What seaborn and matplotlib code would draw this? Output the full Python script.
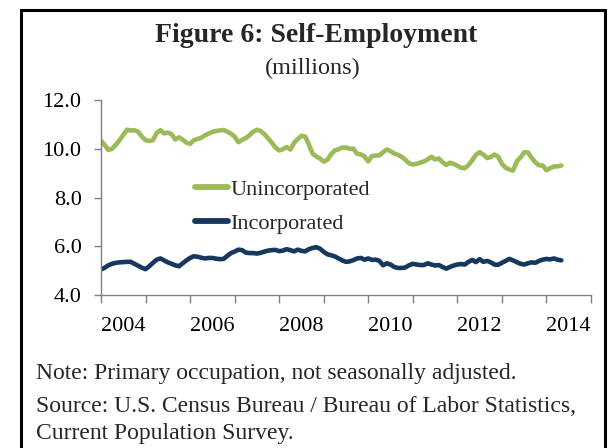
import numpy as np
import pandas as pd
import matplotlib
matplotlib.use("Agg")
import matplotlib.pyplot as plt
import seaborn as sns
from matplotlib.patches import Rectangle

sns.set_theme(style="white")
plt.rcParams['font.family'] = ['Liberation Serif', 'DejaVu Serif']

# Monthly data, Jan 2004 - May 2014 (millions)
start_year = 2004
unincorporated = [
    10.33, 10.15, 9.95, 10.00, 10.17, 10.35, 10.57, 10.78, 10.75, 10.76, 10.70, 10.50,
    10.35, 10.32, 10.35, 10.65, 10.76, 10.63, 10.66, 10.60, 10.38, 10.47, 10.37, 10.25,
    10.20, 10.35, 10.40, 10.45, 10.55, 10.62, 10.69, 10.73, 10.75, 10.77, 10.70, 10.62,
    10.50, 10.27, 10.36, 10.44, 10.55, 10.70, 10.78, 10.73, 10.60, 10.43, 10.25, 10.05,
    9.93, 9.98, 10.07, 9.97, 10.24, 10.40, 10.53, 10.50, 10.17, 9.80, 9.68, 9.60,
    9.47, 9.55, 9.78, 9.93, 9.98, 10.05, 10.05, 10.00, 10.00, 9.79, 9.77, 9.68,
    9.48, 9.70, 9.72, 9.73, 9.86, 9.97, 9.90, 9.80, 9.75, 9.67, 9.55, 9.40,
    9.36, 9.38, 9.43, 9.48, 9.56, 9.67, 9.56, 9.60, 9.45, 9.33, 9.43, 9.38,
    9.30, 9.22, 9.20, 9.33, 9.53, 9.75, 9.86, 9.76, 9.62, 9.66, 9.76, 9.68,
    9.38, 9.22, 9.15, 9.10, 9.48, 9.64, 9.85, 9.85, 9.63, 9.44, 9.32, 9.31,
    9.12, 9.20, 9.27, 9.28, 9.31,
]
incorporated = [
    5.05, 5.12, 5.22, 5.28, 5.32, 5.34, 5.35, 5.36, 5.36, 5.28, 5.20, 5.12,
    5.06, 5.18, 5.32, 5.45, 5.50, 5.42, 5.34, 5.28, 5.22, 5.18, 5.30, 5.42,
    5.52, 5.59, 5.57, 5.53, 5.50, 5.52, 5.52, 5.49, 5.47, 5.48, 5.60, 5.72,
    5.78, 5.86, 5.84, 5.74, 5.72, 5.72, 5.70, 5.73, 5.78, 5.82, 5.84, 5.85,
    5.80, 5.82, 5.88, 5.84, 5.79, 5.86, 5.81, 5.79, 5.88, 5.93, 5.96, 5.90,
    5.77, 5.67, 5.63, 5.58, 5.50, 5.42, 5.36, 5.38, 5.43, 5.50, 5.52, 5.45,
    5.50, 5.44, 5.45, 5.40, 5.22, 5.30, 5.25, 5.15, 5.11, 5.11, 5.13, 5.22,
    5.28, 5.25, 5.23, 5.23, 5.30, 5.25, 5.21, 5.23, 5.15, 5.08, 5.15, 5.21,
    5.25, 5.27, 5.25, 5.36, 5.44, 5.35, 5.47, 5.36, 5.40, 5.34, 5.25, 5.24,
    5.32, 5.40, 5.48, 5.42, 5.35, 5.28, 5.25, 5.30, 5.34, 5.32, 5.40, 5.45,
    5.48, 5.46, 5.50, 5.45, 5.42,
]
year_labels = ["2004", "2006", "2008", "2010", "2012", "2014"]
y_ticks = [4.0, 6.0, 8.0, 10.0, 12.0]

months = np.arange(len(unincorporated))
t = start_year + months / 12.0
df = pd.DataFrame({"t": t, "Unincorporated": unincorporated, "Incorporated": incorporated})

GREEN = "#9BBB59"
BLUE = "#17375E"

fig = plt.figure(figsize=(6.10, 4.48), dpi=100)
ax = fig.add_axes([101 / 610, 1 - 295 / 448, (591 - 101) / 610, (295 - 100) / 448])

sns.lineplot(data=df, x="t", y="Unincorporated", ax=ax, color=GREEN, lw=3.3,
             label="Unincorporated", solid_capstyle="round")
sns.lineplot(data=df, x="t", y="Incorporated", ax=ax, color=BLUE, lw=3.3,
             label="Incorporated", solid_capstyle="round")

ax.set_xlim(2004, 2015)
ax.set_ylim(4, 12)
ax.set_xlabel("")
ax.set_ylabel("")

ax.set_yticks(y_ticks)
ax.set_yticklabels([f"{v:.1f}" for v in y_ticks])
ax.set_xticks(np.arange(2004, 2016))
ax.set_xticklabels([])
ax.set_xticks([int(s) + 0.5 for s in year_labels], minor=True)
ax.set_xticklabels(year_labels, minor=True)

for s in ["top", "right"]:
    ax.spines[s].set_visible(False)
for s in ["left", "bottom"]:
    ax.spines[s].set_color("#808080")
    ax.spines[s].set_linewidth(1.0)

ax.tick_params(axis="y", which="major", direction="out", length=5, width=1.0,
               color="#808080", labelsize=16, pad=9, left=True, labelcolor="black")
ax.tick_params(axis="x", which="major", direction="out", length=6, width=1.0,
               color="#808080", bottom=True)
ax.tick_params(axis="x", which="minor", length=0, labelsize=16, pad=16, labelcolor="black",
               bottom=True)

leg = ax.legend(loc="upper left", bbox_to_anchor=(0.174, 0.64), frameon=False,
                fontsize=16, handlelength=1.5, handletextpad=0.08, labelspacing=0.62,
                borderaxespad=0)
for h in leg.get_lines():
    h.set_linewidth(4.2)

fig.text(316 / 610, 1 - 36 / 448, "Figure 6: Self-Employment", ha="center", va="center",
         fontsize=20, fontweight="bold")
fig.text(313 / 610, 1 - 68 / 448, "(millions)", ha="center", va="center", fontsize=17.5)

fig.text(36 / 610, 1 - 373 / 448, "Note: Primary occupation, not seasonally adjusted.",
         ha="left", va="center", fontsize=17)
fig.text(36 / 610, 1 - 406 / 448, "Source: U.S. Census Bureau / Bureau of Labor Statistics,",
         ha="left", va="center", fontsize=17)
fig.text(36 / 610, 1 - 433 / 448, "Current Population Survey.",
         ha="left", va="center", fontsize=17)

fig.patches.append(Rectangle((21 / 610, -0.2), (605 - 21) / 610, 1.2 - 10 / 448,
                             transform=fig.transFigure, fill=False, lw=2.2,
                             ec="black", zorder=10))

fig.savefig("out.png", dpi=100)
